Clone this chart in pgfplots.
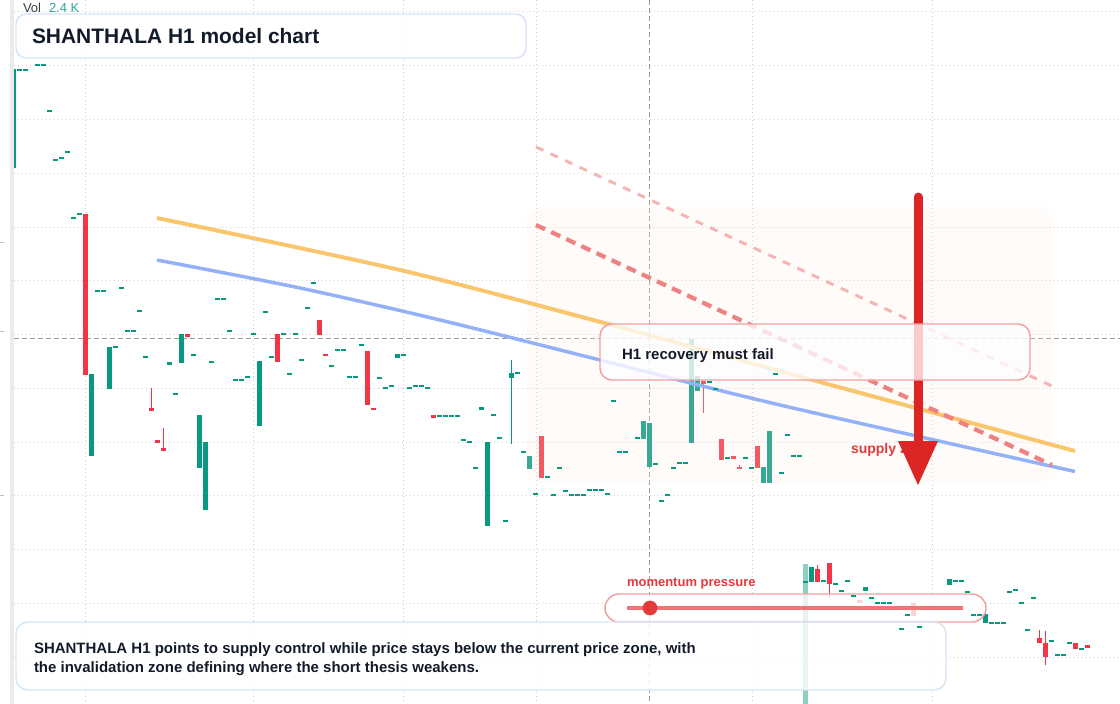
\documentclass[border=0pt]{standalone}
\usepackage{pgfplots}
\usepackage{pgfplotstable}
\pgfplotsset{compat=1.18}
\usepackage{fontspec}
\setmainfont{Liberation Sans}

\definecolor{up}{HTML}{089981}
\definecolor{uplight}{HTML}{8FD0C3}
\definecolor{down}{HTML}{F23645}
\definecolor{gridc}{HTML}{CFCFCF}
\definecolor{cross}{HTML}{9A9A9A}
\definecolor{orangeln}{HTML}{F9C66E}
\definecolor{blueln}{HTML}{93B1F6}
\definecolor{dashred}{HTML}{EC8282}
\definecolor{dashpink}{HTML}{F5B4B4}
\definecolor{arrowred}{HTML}{DC2626}
\definecolor{zonec}{HTML}{FCEBDC}
\definecolor{boxblue}{HTML}{D6E4F7}
\definecolor{boxred}{HTML}{F0A0A0}
\definecolor{txt}{HTML}{131B2B}
\definecolor{labred}{HTML}{E33B3B}

% 1 px of the reference = 0.75bp
\pgfplotsset{
  body/.style={only marks, mark=*, mark size=0pt,
    mark options={draw=none, fill=none}, color=#1,
    error bars/.cd, y dir=plus, y explicit, error mark=none,
    error bar style={line width=3.75bp, line cap=butt, color=#1}},
  wick/.style={only marks, mark=*, mark size=0pt,
    mark options={draw=none, fill=none}, color=#1,
    error bars/.cd, y dir=plus, y explicit, error mark=none,
    error bar style={line width=0.75bp, line cap=butt, color=#1}},
  doji/.style={only marks, mark=-, mark size=1.875bp, color=#1,
    mark options={line width=1.5bp}},
}

\pgfplotstableread{
x t b
91.5 374 456
109.5 347 389
169.5 362 365
181.5 334 363
199.5 415 468
205.5 442 510
259.5 361 426
397.5 354 358
481.5 407 409.5
487.5 442 526
511.5 373 378
529.5 456 469
643.5 421 439
649.5 423 467
691.5 339 443
697.5 376 391
763.5 467 483
769.5 431 483
811.5 567 582
865.5 587 591
949.5 579 585
985.5 614 623
}\upbodies

\pgfplotstableread{
x t b
85.5 214 375
151.5 408 410.5
157.5 440 443
163.5 448 451
187.5 334 336.5
277.5 334 362
319.5 320 335
367.5 351 405
373.5 408 410
433.5 415 418
541.5 436 478
703.5 381 384
721.5 439 460
733.5 456 459
739.5 466.5 469
757.5 446 468
817.5 569 582
829.5 563 584
859.5 600 603
913.5 603 616
1039.5 638 643
1045.5 643 657
1075.5 643 649
1087.5 645 647.5
}\downbodies

\pgfplotstableread{
x t b
151.5 388 409
163.5 428 449
703.5 381 413
739.5 465 469
817.5 565 570
829.5 583 598
1039.5 630 639
1045.5 631 665
}\downwicks

\pgfplotstableread{
x y
19.5 70
25.5 70
37.5 65
43.5 65
49.5 111
55.5 160
61.5 158
67.5 152
73.5 218
79.5 214
97.5 291
103.5 291
115.5 347
121.5 288
127.5 331
133.5 331
139.5 311
145.5 357
175.5 394
193.5 355
211.5 362
217.5 299
223.5 299
229.5 331
235.5 380
241.5 380
247.5 377
253.5 334
265.5 312
271.5 357
283.5 334
289.5 374
295.5 334
301.5 360
307.5 308
313.5 283
331.5 366
337.5 350
343.5 350
349.5 377
355.5 377
361.5 345
379.5 378
385.5 388
391.5 386
403.5 355
409.5 388
415.5 386
421.5 386
427.5 388
439.5 416
445.5 416
451.5 416
457.5 416
463.5 440
469.5 442
475.5 468
493.5 415
499.5 438
505.5 521
517.5 373
523.5 452
535.5 494
547.5 477
553.5 495
559.5 468
565.5 491
571.5 495
577.5 495
583.5 495
589.5 490
595.5 490
601.5 490
607.5 494
613.5 401
619.5 452
625.5 452
637.5 438
655.5 464
661.5 501
667.5 495
673.5 468
679.5 463
685.5 463
709.5 382
715.5 389
727.5 458
745.5 458
751.5 468
775.5 374
781.5 473
787.5 435
793.5 456
799.5 456
805.5 582
823.5 581
835.5 584
841.5 591
847.5 581
853.5 596
871.5 598
877.5 603
883.5 603
889.5 603
901.5 629
907.5 615
919.5 627
955.5 581
961.5 581
967.5 592
973.5 615
979.5 615
991.5 623
997.5 623
1003.5 623
1009.5 592
1015.5 590
1021.5 603
1027.5 630
1033.5 598
1051.5 641
1057.5 655
1063.5 655
1069.5 643
1081.5 649
}\updoji

\begin{document}
\begin{tikzpicture}[every node/.style={inner sep=0pt, outer sep=0pt}]
\begin{axis}[
    scale only axis,
    width=840bp, height=528bp,
    xmin=0, xmax=1120, ymin=0, ymax=704,
    y dir=reverse,
    hide axis,
]

% grid
\pgfplotsinvokeforeach{11,65,119,173,227,280.5,334,388,442,495.5,549,603,657}{
  \addplot[gridc, line width=0.75bp, dash pattern=on 0.75bp off 2.25bp]
    coordinates {(14,#1) (1120,#1)};
}
\pgfplotsinvokeforeach{85.5,253.5,403.5,536,752,932}{
  \addplot[gridc, line width=0.75bp, dash pattern=on 0.75bp off 2.25bp]
    coordinates {(#1,0) (#1,704)};
}
% left strip and scale ticks
\addplot[color=black!8, line width=3bp] coordinates {(12,0) (12,704)};
\pgfplotsinvokeforeach{242,331,495}{
  \addplot[color=black!25, line width=0.75bp] coordinates {(0,#1) (4,#1)};
}
% crosshair
\addplot[cross, line width=0.75bp, dash pattern=on 3.75bp off 2.25bp]
  coordinates {(14,338) (1120,338)};
\addplot[cross, line width=0.75bp, dash pattern=on 3.75bp off 2.25bp]
  coordinates {(649.5,0) (649.5,704)};

% candles
\addplot[up, line width=1.5bp] coordinates {(15,69) (15,168)};
\addplot[body=uplight] coordinates {(805.5,564) += (0,140)};
\addplot[wick=up] coordinates {(511.5,360) += (0,84)};
\addplot[wick=down] table[x=x, y=t, y error plus expr=\thisrow{b}-\thisrow{t}] {\downwicks};
\addplot[body=up] table[x=x, y=t, y error plus expr=\thisrow{b}-\thisrow{t}] {\upbodies};
\addplot[body=down] table[x=x, y=t, y error plus expr=\thisrow{b}-\thisrow{t}] {\downbodies};
\addplot[doji=up] table[x=x, y=y] {\updoji};
\addplot[doji=down] coordinates {(325.5,355)};

% supply zone overlay
\addplot[draw=none, fill=zonec, fill opacity=0.2, rounded corners=11bp]
  coordinates {(527,207) (1051,207) (1051,483) (527,483)} -- cycle;

% model lines
\addplot[orangeln, line width=3bp, smooth]
  coordinates {(157,218) (400,270) (593,320) (820,382) (1075,451)};
\addplot[blueln, line width=2.6bp, smooth]
  coordinates {(157,260) (300,288) (440,320) (600,360) (780,405) (1075,471.5)};
\addplot[dashpink, line width=2.2bp, dash pattern=on 6bp off 6bp]
  coordinates {(536,147) (1052,386)};
\addplot[dashred, line width=3.2bp, dash pattern=on 7.5bp off 5bp]
  coordinates {(536,225) (1052,465)};

\node[anchor=base west, text=labred, font=\bfseries\fontsize{10.5bp}{12bp}\selectfont]
  at (axis cs:851,453) {supply zone};

% arrow
\addplot[arrowred, line width=6.75bp, line cap=round]
  coordinates {(918,197) (918,446)};
\addplot[draw=none, fill=arrowred]
  coordinates {(898,441) (938,441) (918,485)} -- cycle;

% boxes
\draw[boxblue, line width=1.1bp, fill=white, fill opacity=0.9, rounded corners=7.5bp]
  (axis cs:16,14) rectangle (axis cs:526,58);
\node[anchor=base west, text=txt, font=\bfseries\fontsize{15.7bp}{18bp}\selectfont]
  at (axis cs:32,43.3) {SHANTHALA H1 model chart};

\draw[boxred, line width=1.1bp, fill=white, fill opacity=0.77, rounded corners=9bp]
  (axis cs:600,324) rectangle (axis cs:1030,380);
\node[anchor=base west, text=txt, font=\bfseries\fontsize{11.25bp}{13bp}\selectfont]
  at (axis cs:622,359.3) {H1 recovery must fail};

\node[anchor=base west, text=labred, font=\bfseries\fontsize{9.75bp}{11bp}\selectfont]
  at (axis cs:627,586.7) {momentum pressure};
\draw[boxred, line width=1.1bp, fill=white, fill opacity=0.78, rounded corners=10.5bp]
  (axis cs:605,594) rectangle (axis cs:986,622);
\addplot[color=dashred!90!red, line width=3bp] coordinates {(627,608) (963,608)};
\addplot[only marks, mark=*, mark size=5.3bp, color=labred,
  mark options={fill=labred, draw=none}] coordinates {(650,608)};

\draw[boxblue, line width=1.1bp, fill=white, fill opacity=0.82, rounded corners=9bp]
  (axis cs:16,622) rectangle (axis cs:946,690);
\node[anchor=base west, text=txt, font=\bfseries\fontsize{11.25bp}{13bp}\selectfont]
  at (axis cs:34,653) {SHANTHALA H1 points to supply control while price stays below the current price zone, with};
\node[anchor=base west, text=txt, font=\bfseries\fontsize{11.25bp}{13bp}\selectfont]
  at (axis cs:34,672.7) {the invalidation zone defining where the short thesis weakens.};

% volume legend
\node[anchor=base west, text=txt!85, font=\fontsize{9.75bp}{11bp}\selectfont]
  at (axis cs:23,12.7) {Vol};
\node[anchor=base west, text=up!85!white, font=\fontsize{9.75bp}{11bp}\selectfont]
  at (axis cs:49,12.7) {2.4 K};
\end{axis}
\pgfresetboundingbox
\useasboundingbox (current axis.south west) rectangle (current axis.north east);
\end{tikzpicture}
\end{document}
